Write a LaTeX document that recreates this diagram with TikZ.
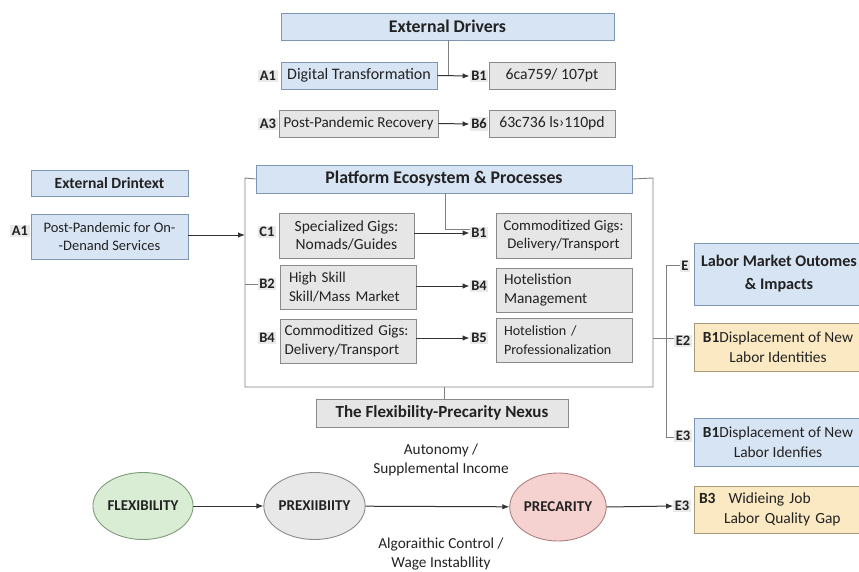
\documentclass[tikz,border=0pt]{standalone}
\usepackage{fontspec}
\setmainfont{Carlito}
\usetikzlibrary{arrows.meta,positioning,shapes.geometric}
\definecolor{bluefill}{HTML}{D7E4F4}
\definecolor{blueline}{HTML}{7F95B5}
\definecolor{grayfill}{HTML}{E6E6E6}
\definecolor{grayline}{HTML}{8A8A8A}
\definecolor{yellfill}{HTML}{FBE9C3}
\definecolor{yellline}{HTML}{A89A78}
\definecolor{greenfill}{HTML}{D9EDD4}
\definecolor{greenline}{HTML}{7F9A7A}
\definecolor{pinkfill}{HTML}{F5D2D0}
\definecolor{pinkline}{HTML}{AE8080}
\definecolor{ellgray}{HTML}{E8E8E8}
\definecolor{tagfill}{HTML}{E9E9E9}
\definecolor{txt}{HTML}{222222}
\definecolor{conn}{HTML}{333333}
\definecolor{frameline}{HTML}{808080}
\newcommand{\fs}[2]{\fontsize{#1}{#2}\selectfont}
\tikzset{
  box/.style={draw, line width=0.9pt, inner sep=2pt, text=txt, align=center, font=\fs{15.5}{19}},
  bluebox/.style={box, fill=bluefill, draw=blueline},
  graybox/.style={box, fill=grayfill, draw=grayline},
  yellbox/.style={box, fill=yellfill, draw=yellline},
  tag/.style={fill=tagfill, inner sep=1.5pt, text=txt, font=\bfseries\fontsize{14.5}{17}\selectfont},
  ell/.style={ellipse, line width=0.9pt, text=txt, font=\bfseries\fs{15}{18}, inner sep=0pt},
  arr/.style={draw=conn, line width=1pt, -{Latex[length=7pt,width=5.5pt]}},
  frm/.style={draw=frameline, line width=0.9pt},
  lbl/.style={text=txt, align=center, font=\fs{15.3}{18.5}},
  hdr/.style={font=\bfseries\fontsize{17.8}{20}\selectfont}
}
\begin{document}
\begin{tikzpicture}[x=1pt,y=-1pt]
\useasboundingbox (0,0) rectangle (859,572);
\begin{scope}
\clip (0,0) rectangle (859,572);
% ---------- top: external drivers ----------
\node[bluebox, hdr, minimum width=333pt, minimum height=27pt] (ed) at (447.5,26.5) {External Drivers};
\node[tag] (a1tag) at (268,76) {A1};
\node[bluebox, minimum width=156pt, minimum height=27pt, font=\fs{16}{20}] (a1) at (359,75.5) {Digital Transformation};
\node[tag] (b1tag) at (479,76) {B1};
\node[graybox, minimum width=126pt, minimum height=27pt, font=\fs{15.7}{20}] (b1) at (552,75.5) {6ca759/ 107pt};
\node[tag] (a3tag) at (268,124) {A3};
\node[graybox, minimum width=159pt, minimum height=27pt, font=\fs{15.1}{20}] (a3) at (358.5,123.5) {Post-Pandemic Recovery};
\node[tag] (b6tag) at (479,124) {B6};
\node[graybox, minimum width=126pt, minimum height=27pt, font=\fs{15.7}{20}] (b6) at (552,123.5) {63c736 ls›110pd};
\coordinate (edturn) at (448,76);
\draw[frm] (ed.south -| edturn) -- (edturn);
\draw[arr] (a1.east) -- (b1tag.west);
\draw[arr] (a3.east) -- (b6tag.west);
% ---------- left ----------
\node[bluebox, minimum width=157pt, minimum height=26pt, font=\bfseries\fontsize{15.6}{19}\selectfont] (edt) at (109.5,183) {External Drintext};
\node[tag] (a1btag) at (20,231) {A1};
\node[bluebox, minimum width=157pt, minimum height=45pt, font=\fs{14.5}{18.5}] (a1b) at (109.5,236.5) {Post-Pandemic for On-\\-Denand Services};
\coordinate (frameL) at (245,235);
\draw[arr] (a1b.east |- frameL) -- (frameL);
% ---------- platform frame ----------
\node[bluebox, hdr, minimum width=376pt, minimum height=28pt] (pe) at (444,179) {Platform Ecosystem \& Processes};
\coordinate (fTL) at (245,178);
\coordinate (fBL) at (245,387);
\coordinate (fBR) at (653,387);
\coordinate (fTR) at (653,178);
\draw[frm] (pe.west) -- (fTL) -- (fBL) -- (fBR) -- (fTR) -- (pe.east);
% rows
\node[tag] (c1tag) at (267,232) {C1};
\node[graybox, minimum width=135pt, minimum height=45pt, font=\fs{15.5}{18.5}] (c1) at (346.5,235.5) {Specialized Gigs:\\Nomads/Guides};
\node[tag] (b1ctag) at (479,233) {B1};
\node[graybox, minimum width=135pt, minimum height=45pt, font=\fs{14.8}{18.5}] (b1c) at (563.5,235.5) {Commoditized Gigs:\\ Delivery/Transport};
\coordinate (peturn) at (445,229);
\draw[frm] (pe.south -| peturn) -- (peturn) -- (peturn -| b1ctag.west);
\draw[arr] (c1.east |- b1ctag.west) -- (b1ctag.west);

\node[tag] (b2tag) at (267,284) {B2};
\node[graybox, minimum width=136pt, minimum height=44pt, align=left, text width=118pt, inner xsep=9pt, font=\fs{15}{18.5}] (b2) at (348,287) {High Skill\\Skill/Mass Market};
\node[tag] (b4tag) at (479,286) {B4};
\node[graybox, minimum width=136pt, minimum height=44pt, align=left, text width=120pt, inner xsep=8pt, font=\fs{15.3}{18.5}] (b4) at (564,290) {Hotelistion\\Management};
\draw[frm] (fBL |- b2tag.west) -- (b2tag.west);
\draw[arr] (b2.east |- b4tag.west) -- (b4tag.west);

\node[tag] (b4btag) at (267,338) {B4};
\node[graybox, minimum width=136pt, minimum height=44pt, align=left, text width=127pt, inner xsep=4.5pt, font=\fs{15.1}{18.5}] (b4b) at (348,341) {Commoditized Gigs:\\Delivery/Transport};
\node[tag] (b5tag) at (479,338) {B5};
\node[graybox, minimum width=136pt, minimum height=44pt, align=left, text width=120pt, inner xsep=8pt, font=\fs{14.1}{18.5}] (b5) at (564,340) {Hotelistion /\\Professionalization};
\draw[arr] (b4b.east |- b5tag.west) -- (b5tag.west);
% ---------- right: outcomes ----------
\node[tag] (etag) at (685,266) {E};
\node[bluebox, minimum width=170pt, minimum height=62pt, font=\bfseries\fontsize{16.2}{23}\selectfont] (eb) at (779,274) {Labor Market Outomes\\\& Impacts};
\node[tag] (e2tag) at (683,341) {E2};
\node[yellbox, minimum width=168pt, minimum height=48pt, font=\fs{15.4}{20}] (e2) at (778,347) {\textbf{B1}Displacement of New\\Labor Identities};
\node[tag] (e3tag) at (683,436) {E3};
\node[bluebox, minimum width=168pt, minimum height=48pt, font=\fs{15.4}{20}] (e3) at (778,442) {\textbf{B1}Displacement of New\\Labor Idenfies};
\coordinate (eA) at (666,338);
\coordinate (eTop) at (666,265);
\coordinate (eBot) at (666,437);
\draw[frm] (fBR |- eA) -- (eA);
\draw[frm] (etag.west |- eTop) -- (eTop) -- (eBot) -- (e3tag.west |- eBot);
\draw[frm] (eA) -- (e2tag.west |- eA);
% ---------- bottom: nexus ----------
\node[graybox, minimum width=252pt, minimum height=28pt, font=\bfseries\fontsize{17}{20}\selectfont] (nx) at (442,413) {The Flexibility-Precarity Nexus};
\draw[frm] (nx.north -| 444,0) -- (444,387);
\node[ell, fill=greenfill, draw=greenline, minimum width=93pt, minimum height=67pt] (flex) at (143,506) {FLEXIBILITY};
\node[ell, fill=ellgray, draw=grayline, minimum width=91pt, minimum height=67pt] (prex) at (314.5,506) {PREXIIBIITY};
\node[ell, fill=pinkfill, draw=pinkline, minimum width=92pt, minimum height=68pt] (prec) at (558,507) {PRECARITY};
\node[tag] (b3tag) at (682,506) {E3};
\node[yellbox, minimum width=180pt, minimum height=47pt, align=left, text width=170pt, font=\fs{15.5}{20}] (b3) at (784,509.5) {\textbf{B3}\hspace{13pt}Widieing Job\\\hspace{25pt}Labor Quality Gap};
\draw[arr] (flex) -- (prex);
\draw[arr] (prex) -- (prec);
\draw[arr] (prec.east) -- (b3tag.west);
\node[lbl] (auto) at (441,460) {Autonomy /\\Supplemental Income};
\node[lbl] (algo) at (441,554) {Algoraithic Control /\\Wage Instabllity};
\end{scope}
\end{tikzpicture}
\end{document}
